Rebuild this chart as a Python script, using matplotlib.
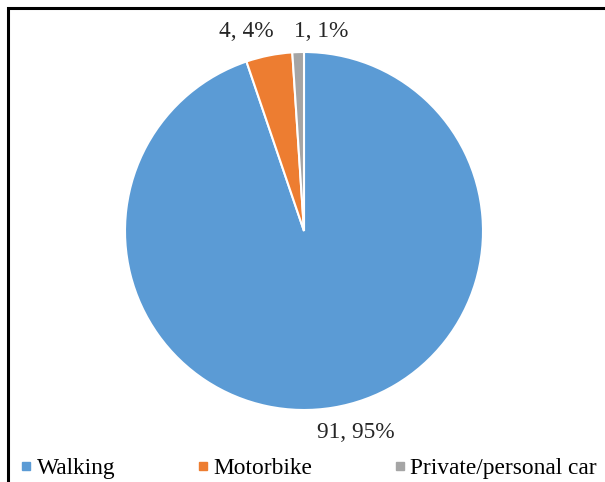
import matplotlib
matplotlib.use("Agg")
import matplotlib.pyplot as plt
from matplotlib.lines import Line2D
from matplotlib.patches import Rectangle

categories = ["Walking", "Motorbike", "Private/personal car"]
counts = [91, 4, 1]
pct_labels = ["95%", "4%", "1%"]
colors = ["#5B9BD5", "#ED7D31", "#A5A5A5"]

plt.rcParams['font.family'] = ['Liberation Serif', 'DejaVu Serif']

W, H = 605, 482
fig = plt.figure(figsize=(W / 100, H / 100), dpi=100)
fig.patch.set_facecolor("white")

# border (top & left visible, extends beyond the image)
fig.add_artist(Rectangle((8 / W, -0.1), 1.2, (H - 8) / H + 0.1, transform=fig.transFigure,
                         fill=False, edgecolor="black", linewidth=2.2))

cx, cy, r = 304, 231, 179
ax = fig.add_axes([(cx - r) / W, (H - cy - r) / H, 2 * r / W, 2 * r / H])
ax.pie(counts, colors=colors, startangle=90, counterclock=False,
       wedgeprops=dict(edgecolor="white", linewidth=1.5), radius=1)
ax.set_xlim(-1, 1)
ax.set_ylim(-1, 1)
ax.set_aspect("equal")
ax.axis("off")

label_pos = [(0.291, -1.126), (-0.324, 1.117), (0.098, 1.117)]
for (x, y), c, p in zip(label_pos, counts, pct_labels):
    ax.text(x, y, f"{c}, {p}", ha="center", va="center", fontsize=16.8, color="#262626",
            clip_on=False)

handles = [Line2D([0], [0], marker="s", linestyle="none", markersize=5.2,
                  markerfacecolor=col, markeredgecolor=col) for col in colors]
fig.legend(handles, categories, loc="center left", bbox_to_anchor=(19 / W, 1 - 468 / H),
           ncol=3, frameon=False, fontsize=16.8, handlelength=0.6, handletextpad=0.15,
           columnspacing=3.45, borderaxespad=0, borderpad=0)

fig.savefig("out.png", dpi=100, facecolor="white")
